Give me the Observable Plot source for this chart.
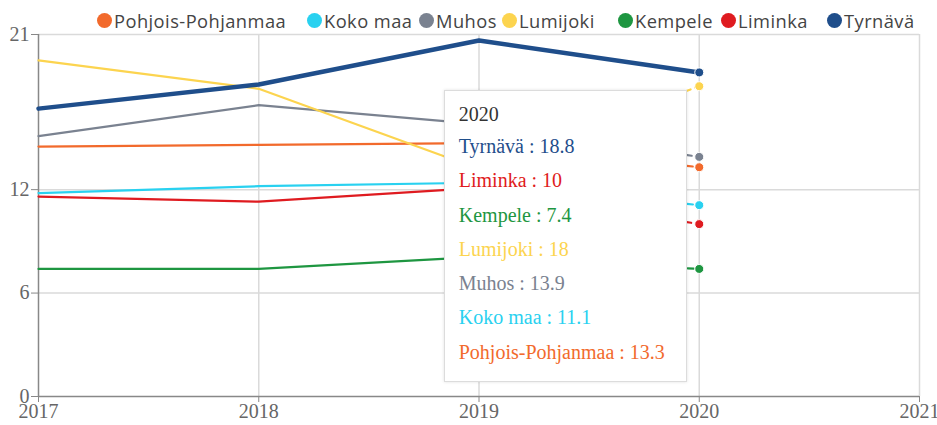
<!DOCTYPE html>
<html>
<head>
<meta charset="utf-8">
<script src="https://cdn.jsdelivr.net/npm/d3@7"></script>
<script src="https://cdn.jsdelivr.net/npm/@observablehq/plot@0.6"></script>
<style>
  html, body { margin: 0; padding: 0; background: #fff; }
  #wrap { position: relative; width: 937px; height: 425px; }
  #legend { position: absolute; top: 0; left: 0; width: 937px; height: 34px; font-family: "Open Sans", sans-serif; font-size: 18.3px; letter-spacing: 0.45px; color: #444; white-space: nowrap; }
  .item { position: absolute; top: 9px; display: flex; align-items: center; height: 22px; }
  .dot { width: 15px; height: 15px; border-radius: 50%; margin-right: 2px; }
  #tip { position: absolute; background: #fff; border: 1px solid #dcdcdc; box-shadow: 0 0 3px rgba(0,0,0,0.12); font-family: "Liberation Serif", serif; font-size: 20px; box-sizing: border-box; padding: 9px 14px; }
  #tip div { line-height: 34.3px; white-space: nowrap; }
  #tip div.head { line-height: 29px; }
</style>
</head>
<body>
<div id="wrap"><div id="legend"></div><div id="tip"></div></div>
<script>
const years = [2017, 2018, 2019, 2020];
const xTicks = [2017, 2018, 2019, 2020, 2021];
const yTicks = [0, 6, 12, 21];

const names = ["Pohjois-Pohjanmaa", "Koko maa", "Muhos", "Lumijoki", "Kempele", "Liminka", "Tyrnävä"];
const colors = ["#F26A2C", "#29D1F0", "#7A8290", "#FCD44F", "#1E9641", "#DF1B20", "#1F4E8B"];
const legendLeft = [97, 307, 419, 502, 618, 721, 827];

const pohjoisPohjanmaa = [14.5, 14.6, 14.7, 13.3];
const kokoMaa = [11.8, 12.2, 12.4, 11.1];
const muhos = [15.1, 16.9, 15.8, 13.9];
const lumijoki = [19.5, 17.85, 13.2, 18];
const kempele = [7.4, 7.4, 8.1, 7.4];
const liminka = [11.6, 11.3, 12.1, 10];
const tyrnava = [16.7, 18.1, 20.65, 18.8];

const tooltipOrder = ["Tyrnävä", "Liminka", "Kempele", "Lumijoki", "Muhos", "Koko maa", "Pohjois-Pohjanmaa"];
const tooltipYear = 2020;

const valuesByName = {
  "Pohjois-Pohjanmaa": pohjoisPohjanmaa, "Koko maa": kokoMaa, "Muhos": muhos,
  "Lumijoki": lumijoki, "Kempele": kempele, "Liminka": liminka, "Tyrnävä": tyrnava
};
const highlight = "Tyrnävä";

const rows = names.flatMap(n => years.map((y, i) => ({name: n, year: y, value: valuesByName[n][i]})));
const solid = rows.filter(d => d.name === highlight ? true : d.year <= 2019);
const dashed = rows.filter(d => d.name !== highlight && d.year >= 2019);
const last = rows.filter(d => d.year === tooltipYear);

const plot = Plot.plot({
  width: 937, height: 425,
  marginLeft: 38, marginRight: 18, marginTop: 34, marginBottom: 29,
  style: {fontFamily: "'Liberation Serif', serif", fontSize: "20px", color: "#666", background: "transparent"},
  x: {domain: [2017, 2021], label: null},
  y: {domain: [0, 21], label: null},
  color: {domain: names, range: colors},
  marks: [
    Plot.gridX(xTicks.slice(1), {stroke: "#dadada", strokeOpacity: 1, strokeWidth: 1.5}),
    Plot.gridY(yTicks.slice(1), {stroke: "#dadada", strokeOpacity: 1, strokeWidth: 1.5}),
    Plot.ruleX([2017], {stroke: "#888", strokeWidth: 1.5}),
    Plot.ruleY([0], {stroke: "#888", strokeWidth: 1.5}),
    Plot.axisX({ticks: xTicks, tickFormat: d => String(d), tickSize: 6, tickPadding: 1, stroke: "#888", fill: "#666", label: null}),
    Plot.axisY({ticks: yTicks, tickSize: 7, tickPadding: 2, stroke: "#888", fill: "#666", label: null}),
    Plot.line(solid.filter(d => d.name !== highlight), {x: "year", y: "value", z: "name", stroke: "name", strokeWidth: 2.2}),
    Plot.line(dashed, {x: "year", y: "value", z: "name", stroke: "name", strokeWidth: 2.2, strokeDasharray: "6,5"}),
    Plot.line(solid.filter(d => d.name === highlight), {x: "year", y: "value", z: "name", stroke: "name", strokeWidth: 4.5}),
    Plot.dot(last, {x: "year", y: "value", fill: "name", r: 4.5, stroke: "#fff", strokeWidth: 1})
  ]
});
document.getElementById("wrap").insertBefore(plot, document.getElementById("legend"));
plot.style.position = "absolute";
plot.style.left = "0";
plot.style.top = "0";

const colorOf = n => colors[names.indexOf(n)];
const legend = document.getElementById("legend");
names.forEach((n, i) => {
  const it = document.createElement("div");
  it.className = "item";
  it.style.left = legendLeft[i] + "px";
  it.innerHTML = `<span class="dot" style="background:${colorOf(n)}"></span><span>${n}</span>`;
  legend.appendChild(it);
});

const xs = plot.scale("x");
const tip = document.getElementById("tip");
const tx = xs.apply(tooltipYear);
tip.style.left = (tx - 255) + "px";
tip.style.top = "90px";
tip.style.width = "243px";
tip.style.height = "292px";
let html = `<div class="head" style="color:#333">${tooltipYear}</div>`;
tooltipOrder.forEach(n => {
  const v = valuesByName[n][years.indexOf(tooltipYear)];
  html += `<div style="color:${colorOf(n)}">${n} : ${v}</div>`;
});
tip.innerHTML = html;
</script>
</body>
</html>
